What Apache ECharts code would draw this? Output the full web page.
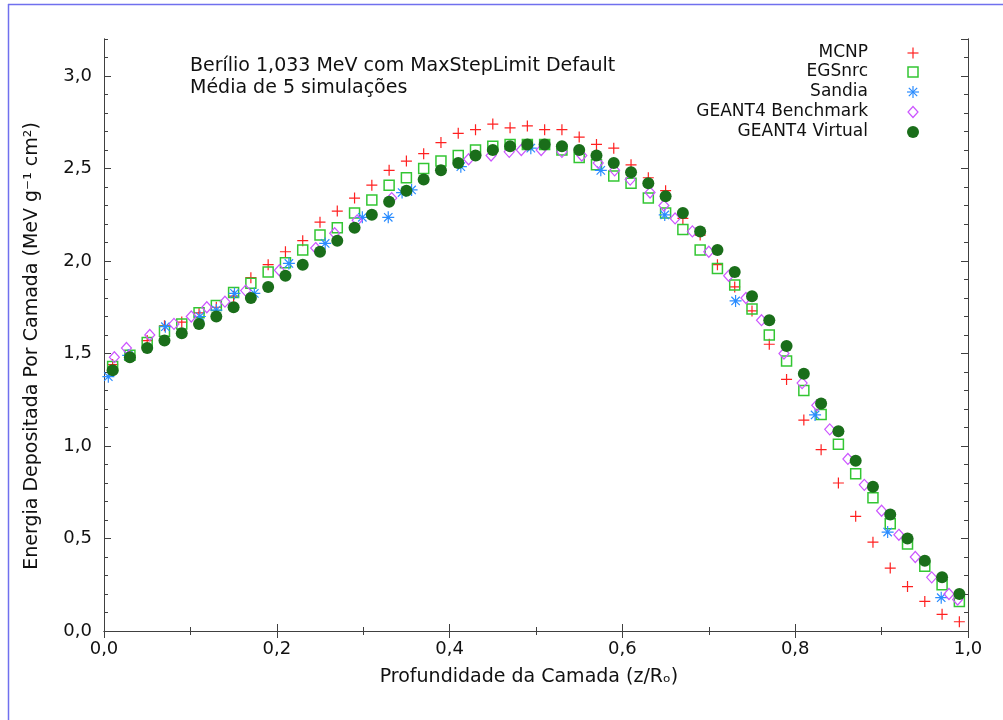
<!DOCTYPE html>
<html>
<head>
<meta charset="utf-8">
<script src="https://cdn.jsdelivr.net/npm/echarts@6/dist/echarts.min.js"></script>
<style>
html,body{margin:0;padding:0;background:#fff;}
#chart{width:1003px;height:720px;}
</style>
</head>
<body>
<div id="chart"></div>
<script>
// ---- data ----
const xGrid = [0.01,0.03,0.05,0.07,0.09,0.11,0.13,0.15,0.17,0.19,0.21,0.23,0.25,0.27,0.29,0.31,0.33,0.35,0.37,0.39,0.41,0.43,0.45,0.47,0.49,0.51,0.53,0.55,0.57,0.59,0.61,0.63,0.65,0.67,0.69,0.71,0.73,0.75,0.77,0.79,0.81,0.83,0.85,0.87,0.89,0.91,0.93,0.95,0.97,0.99];
const yMCNP = [1.44,1.49,1.57,1.65,1.67,1.72,1.75,1.81,1.91,1.98,2.05,2.11,2.21,2.27,2.34,2.41,2.49,2.54,2.58,2.64,2.69,2.71,2.74,2.72,2.73,2.71,2.71,2.67,2.63,2.61,2.52,2.45,2.38,2.23,2.14,1.98,1.86,1.73,1.55,1.36,1.14,0.98,0.80,0.62,0.48,0.34,0.24,0.16,0.09,0.05];
const yEGSnrc = [1.43,1.49,1.56,1.62,1.66,1.72,1.76,1.83,1.88,1.94,1.99,2.06,2.14,2.18,2.26,2.33,2.41,2.45,2.50,2.54,2.57,2.60,2.62,2.63,2.63,2.63,2.60,2.56,2.52,2.46,2.42,2.34,2.26,2.17,2.06,1.96,1.87,1.74,1.60,1.46,1.30,1.17,1.01,0.85,0.72,0.58,0.47,0.35,0.25,0.16];
const yVirtual = [1.41,1.48,1.53,1.57,1.61,1.66,1.70,1.75,1.80,1.86,1.92,1.98,2.05,2.11,2.18,2.25,2.32,2.38,2.44,2.49,2.53,2.57,2.60,2.62,2.63,2.63,2.62,2.60,2.57,2.53,2.48,2.42,2.35,2.26,2.16,2.06,1.94,1.81,1.68,1.54,1.39,1.23,1.08,0.92,0.78,0.63,0.50,0.38,0.29,0.20];
const xSandia = [0.005,0.028,0.071,0.111,0.130,0.151,0.174,0.214,0.256,0.299,0.329,0.345,0.356,0.413,0.494,0.575,0.649,0.731,0.823,0.907,0.969];
const ySandia = [1.375,1.49,1.645,1.70,1.735,1.825,1.825,1.987,2.095,2.236,2.236,2.37,2.384,2.51,2.61,2.49,2.249,1.784,1.168,0.535,0.18];
const xBench = [0.012,0.026,0.053,0.081,0.101,0.119,0.140,0.164,0.203,0.245,0.267,0.293,0.333,0.422,0.448,0.469,0.483,0.506,0.530,0.553,0.572,0.591,0.609,0.632,0.648,0.661,0.681,0.700,0.723,0.743,0.761,0.787,0.808,0.825,0.840,0.861,0.880,0.900,0.920,0.939,0.958,0.978,0.988];
const yBench = [1.48,1.53,1.60,1.66,1.70,1.75,1.78,1.84,1.95,2.07,2.15,2.22,2.34,2.55,2.57,2.59,2.60,2.60,2.59,2.57,2.53,2.49,2.44,2.37,2.30,2.23,2.16,2.05,1.92,1.80,1.68,1.50,1.34,1.22,1.09,0.93,0.79,0.65,0.52,0.40,0.29,0.20,0.17];
const seriesNames = ['MCNP','EGSnrc','Sandia','GEANT4 Benchmark','GEANT4 Virtual'];
const titleLines = ['Berílio 1,033 MeV com MaxStepLimit Default','Média de 5 simulações'];
const xTitle = 'Profundidade da Camada (z/R\u2092)';
const yTitle = 'Energia Depositada Por Camada (MeV g\u207B\u00B9 cm\u00B2)';

const colors = {mcnp:'#ff2020', egs:'#33c633', sandia:'#2a8cff', bench:'#cc55ff', virt:'#1a6e1a'};
const FONT = '"DejaVu Sans", Verdana, sans-serif';
const pair = (xs, ys) => xs.map((x, i) => [x, ys[i]]);
const fmt = v => v.toFixed(1).replace('.', ',');

const chart = echarts.init(document.getElementById('chart'), null, {renderer:'canvas'});
const axisLineStyle = {color:'#404040', width:1};
const G = {left:104, right:35, top:39, bottom:89};

function xAx(pos, labels){
  return {type:'value', position:pos, min:0, max:1, interval:0.2,
    axisLine:{show:true, lineStyle:axisLineStyle},
    axisTick:{show:true, inside:true, length:7, lineStyle:axisLineStyle},
    minorTick:{show:true, splitNumber:2, length:4, lineStyle:axisLineStyle},
    axisLabel:{show:labels, formatter:fmt, fontFamily:FONT, fontSize:18, color:'#111', margin:9},
    splitLine:{show:false}};
}
function yAx(pos, interval, len, labels){
  return {type:'value', position:pos, min:0, max:3.2, interval:interval,
    axisLine:{show:true, lineStyle:axisLineStyle},
    axisTick:{show:true, inside:true, length:len, lineStyle:axisLineStyle},
    axisLabel:{show:labels, showMaxLabel:false, fontFamily:FONT, fontSize:18, color:'#111', margin:12,
      formatter: v => (Math.abs(v*2 - Math.round(v*2)) < 1e-6 ? fmt(v) : '')},
    splitLine:{show:false}};
}

const plusPath = 'path://M5,0L5,10M0,5L10,5';
const starPath = 'path://M5,0L5,10M0,5L10,5M1.5,1.5L8.5,8.5M8.5,1.5L1.5,8.5';

const option = {
  animation:false,
  backgroundColor:'#ffffff',
  grid:G,
  xAxis:[xAx('bottom', true), xAx('top', false)],
  yAxis:[yAx('left',0.5,7,true), yAx('left',0.1,4,false), yAx('right',0.5,7,false), yAx('right',0.1,4,false)],
  series:[
    {name:seriesNames[0], type:'scatter', data:pair(xGrid,yMCNP), symbol:plusPath, symbolSize:11,
      itemStyle:{color:colors.mcnp, borderColor:colors.mcnp, borderWidth:1.2, opacity:1}},
    {name:seriesNames[1], type:'scatter', data:pair(xGrid,yEGSnrc), symbol:'rect', symbolSize:10,
      itemStyle:{color:'rgba(255,255,255,0)', borderColor:colors.egs, borderWidth:1.5, opacity:1}},
    {name:seriesNames[2], type:'scatter', data:pair(xSandia,ySandia), symbol:starPath, symbolSize:12,
      itemStyle:{color:colors.sandia, borderColor:colors.sandia, borderWidth:1.2, opacity:1}},
    {name:seriesNames[3], type:'scatter', data:pair(xBench,yBench), symbol:'diamond', symbolSize:[10,11],
      itemStyle:{color:'rgba(255,255,255,0)', borderColor:colors.bench, borderWidth:1.2, opacity:1}},
    {name:seriesNames[4], type:'scatter', data:pair(xGrid,yVirtual), symbol:'circle', symbolSize:12,
      itemStyle:{color:colors.virt, opacity:1}}
  ],
  graphic:[]
};

const g = option.graphic;
g.push({type:'line', shape:{x1:8.5,y1:4,x2:8.5,y2:720}, style:{stroke:'#7070ee', lineWidth:1.5}, z:100});
g.push({type:'line', shape:{x1:8,y1:4.5,x2:1003,y2:4.5}, style:{stroke:'#7070ee', lineWidth:1.5}, z:100});
titleLines.forEach((t,i)=>{
  g.push({type:'text', x:190, y:66+i*22, style:{text:t, font:'19px '+FONT, fill:'#111', textAlign:'left', textVerticalAlign:'middle'}, z:100});
});
g.push({type:'text', x:529, y:677, style:{text:xTitle, font:'19px '+FONT, fill:'#111', textAlign:'center', textVerticalAlign:'middle'}, z:100});
g.push({type:'text', x:32, y:346, rotation:Math.PI/2, style:{text:yTitle, font:'19px '+FONT, fill:'#111', textAlign:'center', textVerticalAlign:'middle'}, z:100});
const legY = [53,72,92,112,132];
const sx = 913;
seriesNames.forEach((n,i)=>{
  g.push({type:'text', x:868, y:legY[i], style:{text:n, font:'17px '+FONT, fill:'#111', textAlign:'right', textVerticalAlign:'middle'}, z:100});
});
g.push({type:'line', shape:{x1:sx-5.5,y1:legY[0],x2:sx+5.5,y2:legY[0]}, style:{stroke:colors.mcnp, lineWidth:1.2}, z:100});
g.push({type:'line', shape:{x1:sx,y1:legY[0]-5.5,x2:sx,y2:legY[0]+5.5}, style:{stroke:colors.mcnp, lineWidth:1.2}, z:100});
g.push({type:'rect', shape:{x:sx-5,y:legY[1]-5,width:10,height:10}, style:{stroke:colors.egs, fill:null, lineWidth:1.5}, z:100});
[[0,6],[6,0],[4.2,4.2],[4.2,-4.2]].forEach(([dx,dy])=>{
  g.push({type:'line', shape:{x1:sx-dx,y1:legY[2]-dy,x2:sx+dx,y2:legY[2]+dy}, style:{stroke:colors.sandia, lineWidth:1.2}, z:100});
});
g.push({type:'polygon', shape:{points:[[sx,legY[3]-5.5],[sx+5,legY[3]],[sx,legY[3]+5.5],[sx-5,legY[3]]]}, style:{stroke:colors.bench, fill:null, lineWidth:1.2}, z:100});
g.push({type:'circle', shape:{cx:sx, cy:legY[4], r:6}, style:{fill:colors.virt}, z:100});

chart.setOption(option);
</script>
</body>
</html>
